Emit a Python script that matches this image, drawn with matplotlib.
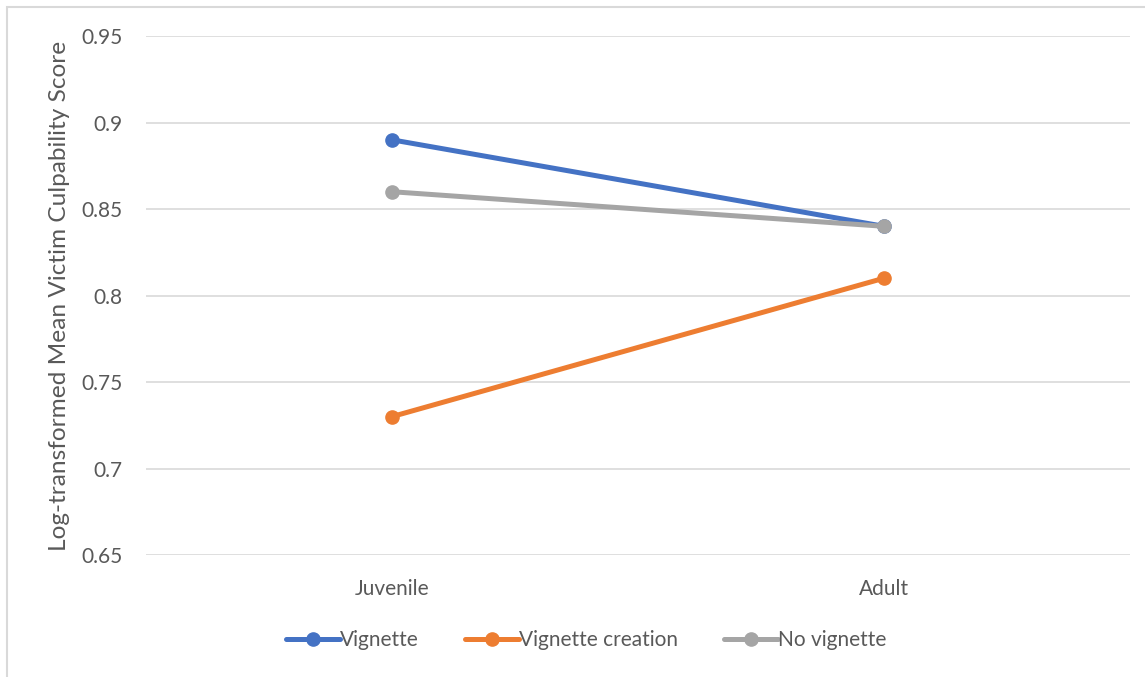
import matplotlib.pyplot as plt
from matplotlib.patches import Rectangle

# Mean victim culpability (log-transformed) by age group and condition
groups = ['Juvenile', 'Adult']
vignette = [0.89, 0.84]
vignette_creation = [0.73, 0.81]
no_vignette = [0.86, 0.84]

series = [
    ('Vignette', vignette, '#4472C4'),
    ('Vignette creation', vignette_creation, '#ED7D31'),
    ('No vignette', no_vignette, '#A5A5A5'),
]

plt.rcParams['font.family'] = ['Lato', 'DejaVu Sans']
text_color = '#595959'

fig = plt.figure(figsize=(11.45, 6.77), dpi=100)
ax = fig.add_axes([0.1275, 0.1802, 0.8594, 0.7666])

x = [0.5, 1.5]
for name, vals, color in series:
    ax.plot(x, vals, color=color, linewidth=3.6, marker='o', markersize=9.5,
            label=name, solid_capstyle='round', zorder=3)

ax.set_xlim(0, 2)
ax.set_ylim(0.65, 0.95)
ax.set_xticks(x)
ax.set_xticklabels(groups)
ax.set_yticks([0.65, 0.7, 0.75, 0.8, 0.85, 0.9, 0.95])
ax.set_yticklabels(['0.65', '0.7', '0.75', '0.8', '0.85', '0.9', '0.95'])
ax.tick_params(axis='both', length=0, labelsize=15, colors=text_color)
ax.tick_params(axis='y', pad=17)
ax.tick_params(axis='x', pad=17)
ax.yaxis.grid(True, color='#D9D9D9', linewidth=1.2)
ax.set_axisbelow(True)
for spine in ax.spines.values():
    spine.set_visible(False)

ax.set_ylabel('Log-transformed Mean Victim Culpability Score', fontsize=17.6,
              color=text_color, labelpad=8)

leg = fig.legend(loc='center', bbox_to_anchor=(0.512, 0.054), ncol=3,
                 frameon=False, fontsize=15, handlelength=2.6,
                 handletextpad=0.0, columnspacing=2.2)
for t in leg.get_texts():
    t.set_color(text_color)

# chart area outline
fig.patches.append(Rectangle((7 / 1145, -0.1), 1.2, 1 - 7 / 677 + 0.1,
                             transform=fig.transFigure, fill=False,
                             edgecolor='#D9D9D9', linewidth=1.5))

fig.savefig('out.png', dpi=100)
